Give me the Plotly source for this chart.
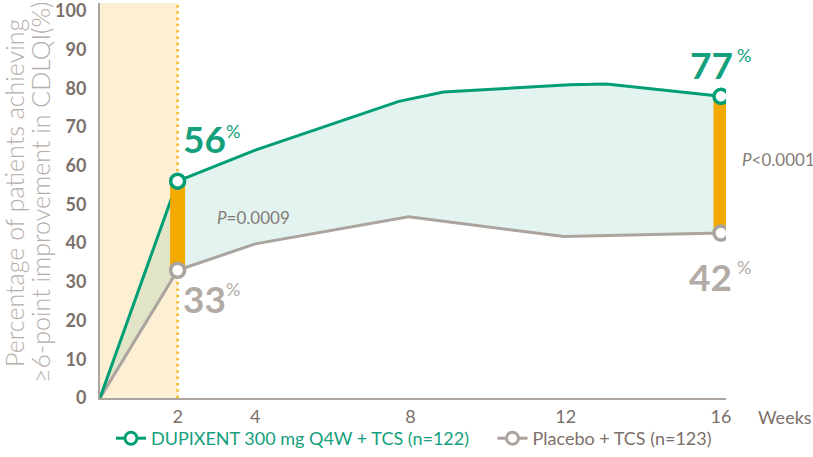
import plotly.graph_objects as go

# ---- data ----
dup_weeks = [0, 2, 4, 7.7, 8.85, 12.1, 13.05, 16]
dup_values = [0, 56, 64, 76.6, 79, 80.9, 81.1, 77.9]
pbo_weeks = [0, 2, 4, 7.95, 11.95, 16]
pbo_values = [0, 33, 39.8, 46.8, 41.7, 42.6]

marker_weeks = [2, 16]
dup_marker_values = [56, 77.9]
pbo_marker_values = [33, 42.6]
dup_labels = [56, 77]
pbo_labels = [33, 42]
p_values = ["<i>P</i>=0.0009", "<i>P</i>&lt;0.0001"]

x_tickvals = [2, 4, 8, 12, 16]
x_ticktext = ["2", "4", "8", "12", "16"]
y_tickvals = [0, 10, 20, 30, 40, 50, 60, 70, 80, 90, 100]

dup_name = "DUPIXENT 300 mg Q4W + TCS (n=122)"
pbo_name = "Placebo + TCS (n=123)"
y_title_lines = ["Percentage of patients achieving", "≥6-point improvement in CDLQI(%)"]
x_unit = "Weeks"
run_in_end = 2

GREEN = "#009e74"
GREEN_TXT = "#14a07c"
GREY = "#aaa39e"
GREY_TXT = "#b3aba6"
DARK = "#7b706a"
ORANGE = "#f2a900"
DOT = "#f7b820"
CREAM = "#fdefd3"
FILL = "rgba(0,150,110,0.11)"
BIG = "Lato"
PAD = "\u00a0" * 4

fig = go.Figure()

fig.add_trace(go.Scatter(x=pbo_weeks, y=pbo_values, mode="lines",
                         line=dict(color=GREY, width=3), showlegend=False,
                         hoverinfo="skip"))
fig.add_trace(go.Scatter(x=dup_weeks, y=dup_values, mode="lines",
                         line=dict(color=GREEN, width=3), fill="tonexty",
                         fillcolor=FILL, showlegend=False, hoverinfo="skip"))

bx, by = [], []
for w, lo, hi in zip(marker_weeks, pbo_marker_values, dup_marker_values):
    bx += [w, w, None]
    by += [lo, hi, None]
fig.add_trace(go.Scatter(x=bx, y=by, mode="lines",
                         line=dict(color=ORANGE, width=15), showlegend=False,
                         hoverinfo="skip"))

fig.add_trace(go.Scatter(x=marker_weeks, y=pbo_marker_values, mode="markers",
                         marker=dict(size=14, color="white",
                                     line=dict(color=GREY, width=3.5)),
                         showlegend=False, hoverinfo="skip"))
fig.add_trace(go.Scatter(x=marker_weeks, y=dup_marker_values, mode="markers",
                         marker=dict(size=14, color="white",
                                     line=dict(color=GREEN, width=3.5)),
                         showlegend=False, hoverinfo="skip"))

fig.add_trace(go.Scatter(x=[None], y=[None], mode="lines+markers",
                         name=f'<span style="color:{GREEN_TXT}">{dup_name}</span>{PAD}',
                         line=dict(color=GREEN, width=3),
                         marker=dict(size=12, color="white", line=dict(color=GREEN, width=3))))
fig.add_trace(go.Scatter(x=[None], y=[None], mode="lines+markers",
                         name=f'<span style="color:{DARK}">{pbo_name}</span>',
                         line=dict(color=GREY, width=3),
                         marker=dict(size=12, color="white", line=dict(color=GREY, width=3))))

fig.add_shape(type="rect", xref="x", yref="paper", x0=0, x1=run_in_end, y0=0, y1=1,
              fillcolor=CREAM, line=dict(width=0), layer="below")
fig.add_shape(type="line", xref="x", yref="paper", x0=run_in_end, x1=run_in_end, y0=0, y1=1,
              line=dict(color=DOT, width=2.5, dash="2.5px,3.8px"), layer="below")

annotations = []
# (digit anchor, xshift, yshift, pct xshift, pct yshift)
dup_style = [("left", 3, 43, 46, 50), ("right", 14, 32, 14, 41)]
pbo_style = [("left", 3, -28, 46, -19), ("right", 13, -43, 14, -34)]
for w, v, lab, st in zip(marker_weeks, dup_marker_values, dup_labels, dup_style):
    annotations.append(dict(x=w, y=v, text=f"<b>{lab}</b>", showarrow=False,
                            xanchor=st[0], yanchor="middle", xshift=st[1], yshift=st[2],
                            font=dict(family=BIG, size=37, color=GREEN_TXT)))
    annotations.append(dict(x=w, y=v, text="%", showarrow=False,
                            xanchor="left", yanchor="middle", xshift=st[3], yshift=st[4],
                            font=dict(family=BIG, size=18, color=GREEN_TXT)))
for w, v, lab, st in zip(marker_weeks, pbo_marker_values, pbo_labels, pbo_style):
    annotations.append(dict(x=w, y=v, text=f"<b>{lab}</b>", showarrow=False,
                            xanchor=st[0], yanchor="middle", xshift=st[1], yshift=st[2],
                            font=dict(family=BIG, size=37, color=GREY_TXT)))
    annotations.append(dict(x=w, y=v, text="%", showarrow=False,
                            xanchor="left", yanchor="middle", xshift=st[3], yshift=st[4],
                            font=dict(family=BIG, size=18, color=GREY_TXT)))

annotations.append(dict(x=2.96, y=46.7, text=p_values[0], showarrow=False,
                        xanchor="left", yanchor="middle",
                        font=dict(family="Lato", size=17, color="#857c77")))
annotations.append(dict(xref="paper", x=(740 - 100) / 626, y=61.5, text=p_values[1],
                        showarrow=False, xanchor="left", yanchor="middle",
                        font=dict(family="Lato", size=17, color="#857c77")))
annotations.append(dict(xref="paper", yref="paper", x=1.048, y=-0.048, text=x_unit,
                        showarrow=False, xanchor="left", yanchor="middle",
                        font=dict(family="Lato", size=18, color=DARK)))
for i, (line, cx) in enumerate(zip(y_title_lines, [14, 40])):
    annotations.append(dict(xref="paper", yref="paper", x=(cx - 100) / 626,
                            y=(398 - 193) / 395, text=line, showarrow=False, textangle=-90,
                            xanchor="center", yanchor="middle",
                            font=dict(family="Lato", size=25, weight=300, color="#b5ada8")))

fig.update_layout(
    width=813, height=457,
    margin=dict(l=100, r=87, t=3, b=59, autoexpand=False),
    paper_bgcolor="white", plot_bgcolor="white",
    annotations=annotations,
    showlegend=True,
    legend=dict(orientation="h", xref="container", yref="container",
                x=0.1365, y=0.0, xanchor="left", yanchor="bottom",
                traceorder="normal",
                font=dict(family="Lato", size=18), bgcolor="rgba(0,0,0,0)",
                itemclick=False, itemdoubleclick=False),
    xaxis=dict(range=[0, 16.13], tickvals=x_tickvals, ticktext=x_ticktext,
               showgrid=False, zeroline=False, showline=True, linecolor=GREY, linewidth=2,
               ticks="", ticklabelstandoff=1, automargin=False,
               tickfont=dict(family="Lato", size=18, color=DARK)),
    yaxis=dict(range=[0, 102], tickvals=y_tickvals,
               showgrid=False, zeroline=False, showline=True, linecolor=GREY, linewidth=2,
               ticks="", ticklabelstandoff=8, automargin=False, ticklabeloverflow="allow",
               tickfont=dict(family="Lato", size=18, weight="bold", color=DARK)),
)

fig.write_html("out.html", config={"displayModeBar": False},
               post_script="document.body.style.margin='0';")
